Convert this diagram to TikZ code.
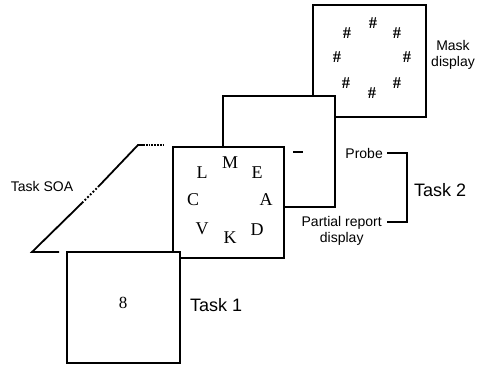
\documentclass[tikz,border=0pt]{standalone}
\usepackage{fontspec}
\usetikzlibrary{calc}
\setmainfont{Liberation Sans}
\newfontfamily\stimfont{Liberation Serif}
\begin{document}
\begin{tikzpicture}[x=1pt,y=-1pt,
  screen/.style={draw,fill=white,line width=2.1pt,rectangle,inner sep=0pt,outer sep=0pt},
  stim/.style={font=\stimfont\fontsize{18}{20}\selectfont,inner sep=0pt},
  hashmark/.style={font=\stimfont\fontsize{16.5}{18}\selectfont\bfseries,inner sep=0pt},
  lbl/.style={font=\fontsize{14}{16}\selectfont,inner sep=0pt,align=center},
  tasklbl/.style={font=\fontsize{18}{20}\selectfont,inner sep=0pt},
  thick line/.style={line width=2.2pt}]
\useasboundingbox (0,0) rectangle (478,364);

% stacked displays, back to front
\node[screen,minimum width=113pt,minimum height=112pt] (maskbox) at (369.5,61) {};
\node[screen,minimum width=112pt,minimum height=111pt] (probebox) at (279,151.5) {};
\node[screen,minimum width=111pt,minimum height=111pt] (reportbox) at (228.5,202.5) {};
\node[screen,minimum width=113pt,minimum height=111pt] (taskbox) at (123.5,307.5) {};

% mask characters
\node[hashmark] (h1) at (373,23) {\#};
\node[hashmark] (h2) at (347,33) {\#};
\node[hashmark] (h3) at (397,33) {\#};
\node[hashmark] (h4) at (337,57) {\#};
\node[hashmark] (h5) at (407,57) {\#};
\node[hashmark] (h6) at (346,83) {\#};
\node[hashmark] (h7) at (397,83) {\#};
\node[hashmark] (h8) at (372,93) {\#};

% probe marker
\node[inner sep=0pt] (probemark) at (298,152) {\rule{10pt}{2.5pt}};

% letter array
\node[stim] (sM) at (230,163) {M};
\node[stim] (sL) at (202,173) {L};
\node[stim] (sE) at (257,173) {E};
\node[stim] (sC) at (193,200) {C};
\node[stim] (sA) at (266,200) {A};
\node[stim] (sV) at (202,229) {V};
\node[stim] (sD) at (257,230) {D};
\node[stim] (sK) at (230,238) {K};

% Task 1 digit
\node[font=\stimfont\fontsize{17}{19}\selectfont,inner sep=0pt] (digit) at (123,303) {8};

% labels
\node[lbl] (masklbl) at (453,55) {Mask\\display};
\node[lbl,anchor=east] (probelbl) at (383,153) {Probe};
\node[lbl,anchor=north east] (reportlbl) at (382,216) {Partial report\\display};
\node[tasklbl,anchor=west] (task2lbl) at (414,190) {Task 2};
\node[tasklbl,anchor=west] (task1lbl) at (190,305) {Task 1};
\node[lbl] (soalbl) at (42,186) {Task SOA};

% bracket grouping probe and report under Task 2
\coordinate (brtop) at (387,153);
\coordinate (brbot) at (387,222);
\draw[thick line] (brtop) -- ++(20,0) |- (brbot);

% SOA trapezoid outline with broken segments
\coordinate (soaA) at (32,252);
\coordinate (soaB) at (59,252);
\coordinate (soaC) at (138,145);
\coordinate (soaD) at (165,145);
\coordinate (soaG1) at (82,203);
\coordinate (soaG2) at (98,187);
\coordinate (soaE) at ($(soaC)+(5,0)$);
\draw[line width=1.8pt] (soaB) -- (soaA) -- (soaG1);
\draw[line width=1.8pt,dotted] (soaG1) -- (soaG2);
\draw[line width=1.8pt] (soaG2) -- (soaC) -- (soaE);
\draw[line width=1.8pt,densely dotted] (soaE) -- (soaD);
\end{tikzpicture}
\end{document}
